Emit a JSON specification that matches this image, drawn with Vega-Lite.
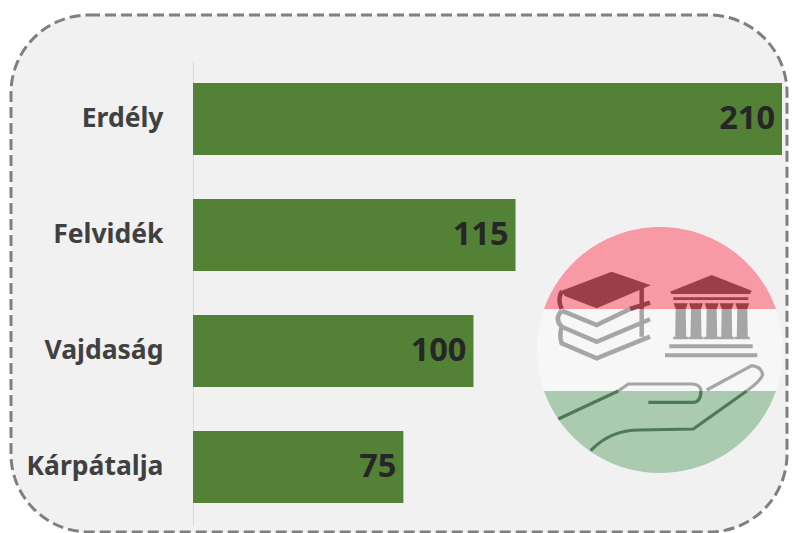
{"$schema":"https://vega.github.io/schema/vega-lite/v6.json","width":776,"height":517,"autosize":"none","padding":{"left":11,"top":15,"right":9,"bottom":1},"background":"#FFFFFF","view":{"fill":"#F1F1F1","stroke":"#7F7F7F","strokeWidth":3,"strokeDash":[11,5],"cornerRadius":78},"datasets":{"emblem":[{"region":"Vajdaság","emblem_x":166.5}]},"data":{"values":[{"region":"Erdély","students":210},{"region":"Felvidék","students":115},{"region":"Vajdaság","students":100},{"region":"Kárpátalja","students":75}]},"encoding":{"y":{"field":"region","type":"nominal","title":null,"scale":{"domain":["Erdély","Felvidék","Vajdaság","Kárpátalja"],"range":[46,510],"paddingInner":0.38,"paddingOuter":0.19},"axis":{"offset":-182,"ticks":false,"grid":false,"domain":true,"domainColor":"#D9D9D9","domainWidth":1,"labelFont":"Noto Sans","labelFontWeight":"bold","labelFontSize":26.5,"labelColor":"#404040","labelPadding":30}}},"layer":[{"mark":{"type":"bar","fill":"#538135"},"encoding":{"x":{"field":"students","type":"quantitative","title":null,"axis":null,"scale":{"domain":[0,210],"nice":false,"zero":false,"range":[182,771]}}}},{"mark":{"type":"text","align":"right","baseline":"middle","dx":-7,"font":"Noto Sans","fontWeight":"bold","fontSize":32.5,"fill":"#262626"},"encoding":{"x":{"field":"students","type":"quantitative"},"text":{"field":"students","type":"quantitative"}}},{"data":{"name":"emblem"},"encoding":{"x":{"field":"emblem_x","type":"quantitative"},"y":{"field":"region","type":"nominal"}},"layer":[{"mark":{"type":"point","size":4,"filled":true,"opacity":1,"fill":"#F7F7F7","shape":"M-123,-1A123,123 0 1 1 123,-1A123,123 0 1 1 -123,-1Z"}},{"mark":{"type":"point","size":4,"filled":true,"opacity":1,"fill":"#F79AA6","shape":"M-116,-42A123,123 0 0 1 116,-42Z"}},{"mark":{"type":"point","size":4,"filled":true,"opacity":1,"fill":"#ABCBB0","shape":"M-116,40A123,123 0 0 0 116,40Z"}},{"mark":{"type":"point","size":4,"filled":true,"opacity":1,"fill":"#9B3E4A","shape":"M-48.3,-79.3L-9.3,-65.7L-63.3,-42.7L-95.3,-55L-98.3,-60.3ZM51.7,-76L91.7,-60.3L90,-57L11.7,-57L10,-59.3ZM13.3,-53.7L88.3,-53.7L88.3,-51L13.3,-51ZM13.7,-47.7L27.7,-47.7L25.7,-42L15.7,-42ZM29,-47.7L43,-47.7L41,-42L31,-42ZM44.7,-47.7L58.7,-47.7L56.7,-42L46.7,-42ZM59.7,-47.7L73.7,-47.7L71.7,-42L61.7,-42ZM75.3,-47.7L89.3,-47.7L87.3,-42L77.3,-42Z"}},{"mark":{"type":"point","size":4,"filled":false,"opacity":1,"stroke":"#9B3E4A","strokeWidth":4.5,"shape":"M-98,-60Q-103,-52 -98.3,-42M-10,-48.3L-30,-42M-18.3,-62.7L-18.3,-42"}},{"mark":{"type":"point","size":4,"filled":true,"opacity":1,"fill":"#A6A6A6","shape":"M15.7,-42L25.7,-42L26.2,-14.3L28.2,-14.3L28.2,-11.7L13.2,-11.7L13.2,-14.3L15.2,-14.3ZM31,-42L41,-42L41.5,-14.3L43.5,-14.3L43.5,-11.7L28.5,-11.7L28.5,-14.3L30.5,-14.3ZM46.7,-42L56.7,-42L57.2,-14.3L59.2,-14.3L59.2,-11.7L44.2,-11.7L44.2,-14.3L46.2,-14.3ZM61.7,-42L71.7,-42L72.2,-14.3L74.2,-14.3L74.2,-11.7L59.2,-11.7L59.2,-14.3L61.2,-14.3ZM77.3,-42L87.3,-42L87.8,-14.3L89.8,-14.3L89.8,-11.7L74.8,-11.7L74.8,-14.3L76.8,-14.3ZM9.3,-6.7L92.7,-6.7L92.7,-2.7L9.3,-2.7ZM5,2.3L97.3,2.3L97.3,6.3L5,6.3Z"}},{"mark":{"type":"point","size":4,"filled":false,"opacity":1,"stroke":"#A6A6A6","strokeWidth":4.5,"shape":"M-30,-42L-63.3,-26L-98.3,-40.3M-98.3,-40.3Q-106,-32 -98.3,-24.3L-63.3,-9.3L-10,-31.7M-98.3,-24.3Q-101,-16 -98.3,-7.7L-63.3,7.3L-10,-14.3M-18.3,-42L-18.3,-14.3"}},{"mark":{"type":"point","size":4,"filled":false,"opacity":1,"stroke":"#A6A6A6","strokeWidth":3.2,"shape":"M-41.7,40L-31.7,33L33.3,33Q40.7,34 41,40M46.7,39L91.7,14.7Q101.7,15.7 102.7,24Q100.7,29.7 86.7,40"}},{"mark":{"type":"point","size":4,"filled":false,"opacity":1,"stroke":"#4F7A57","strokeWidth":3.2,"shape":"M-101.7,68L-41.7,40M41,40Q40.7,51.3 33.3,51.3L-11.7,51.3M86.7,40L33.3,78L-20,79Q-50,79 -69.3,99.7"}}]}]}
